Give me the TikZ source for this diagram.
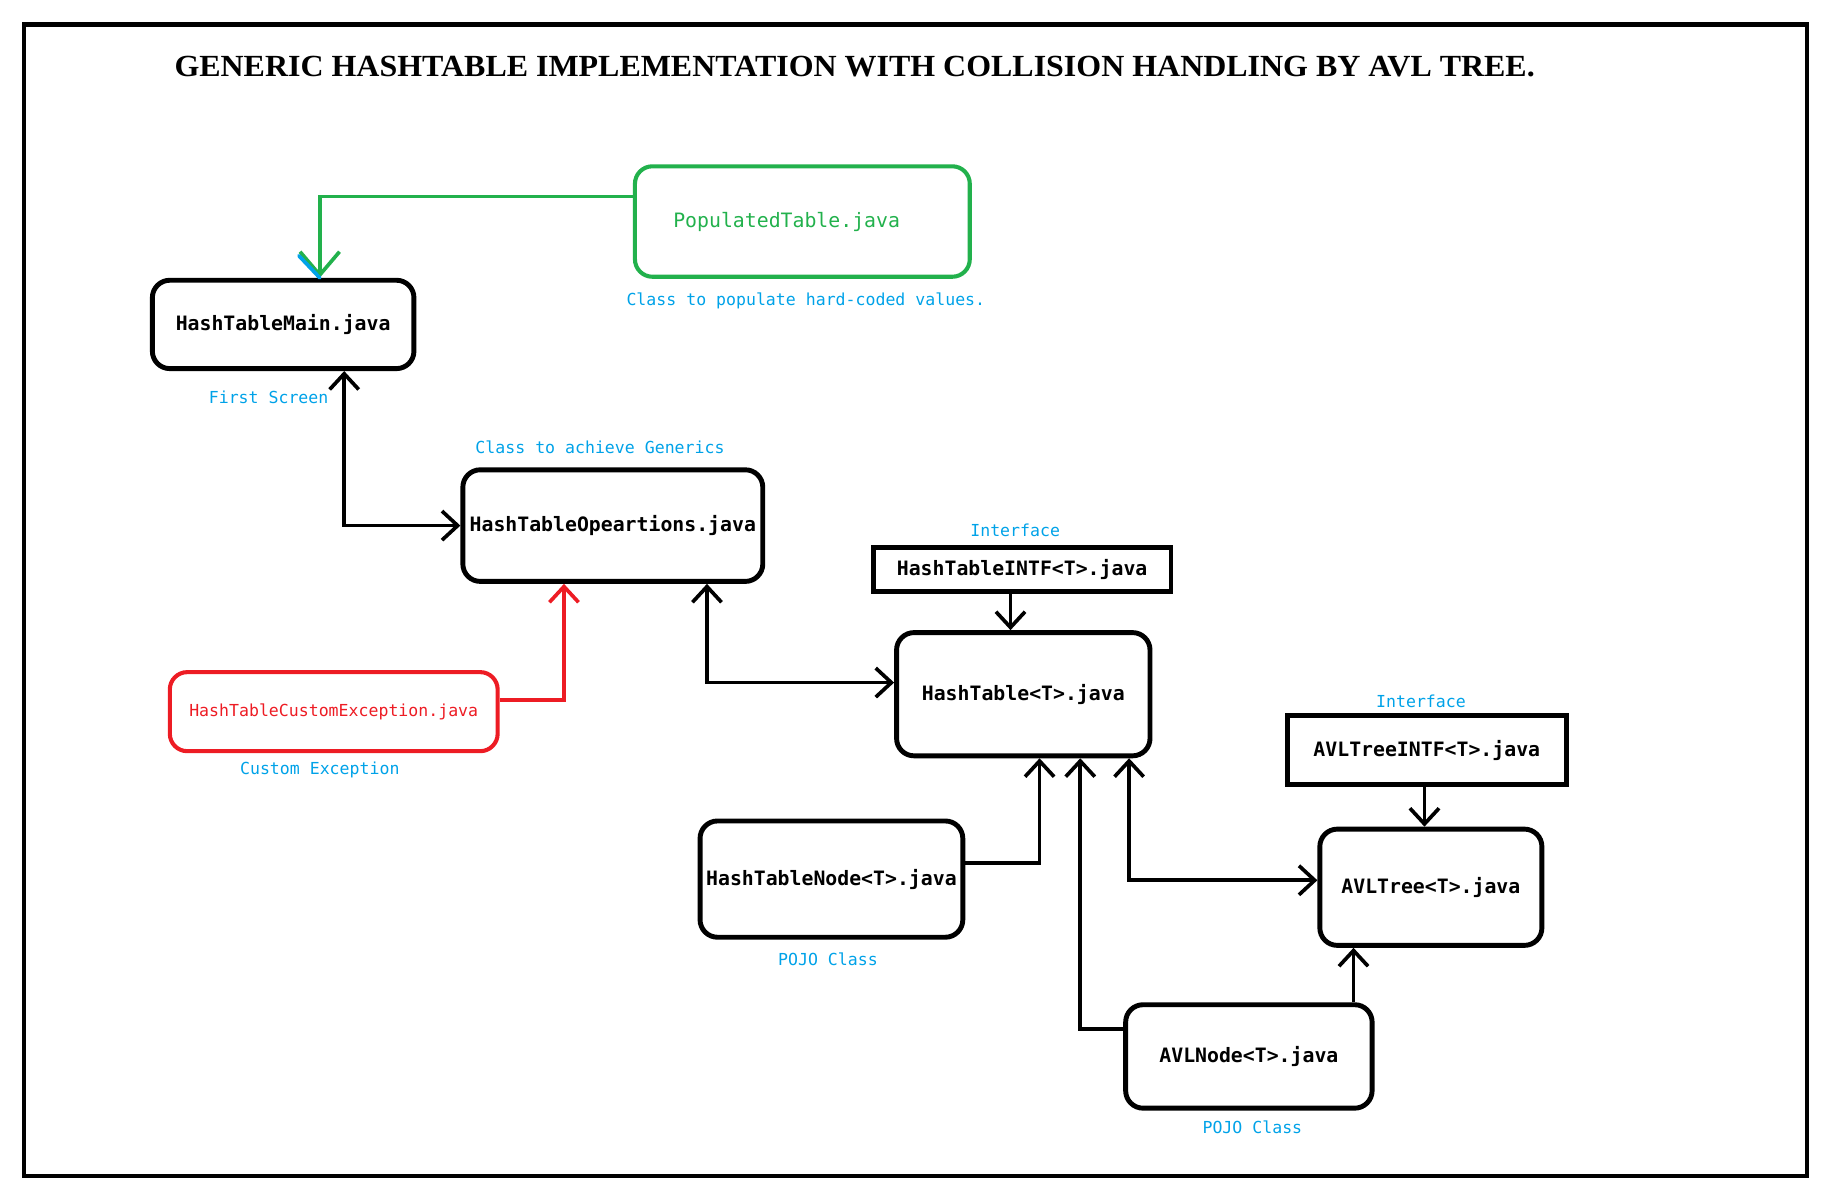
\documentclass[tikz,border=0pt]{standalone}
\usepackage{fontspec}
\setmainfont{Liberation Serif}
\setmonofont{DejaVu Sans Mono}
\usepackage{graphicx}
\usetikzlibrary{arrows.meta}
\usetikzlibrary{positioning}
\definecolor{paintgreen}{RGB}{34,177,76}
\definecolor{paintred}{RGB}{237,28,36}
\definecolor{paintblue}{RGB}{0,162,232}
\tikzstyle{block} = [rectangle, draw, line width=2.4pt, rounded corners=0.3cm, align=center, inner sep=0pt, font=\fontsize{9.7}{11}\selectfont\ttfamily\bfseries]
\tikzstyle{intfbox} = [rectangle, draw, line width=2.4pt, align=center, inner sep=0pt, font=\fontsize{9.7}{11}\selectfont\ttfamily\bfseries]
\tikzstyle{note} = [paintblue, font=\fontsize{8.1}{10}\selectfont\ttfamily]
\tikzstyle{arrow} = [draw, line width=1.8pt, -{Straight Barb[length=0.27cm,width=0.5cm]}]
\tikzstyle{dblarrow} = [draw, line width=1.8pt, {Straight Barb[length=0.27cm,width=0.5cm]}-{Straight Barb[length=0.27cm,width=0.5cm]}]

\begin{document}
\begin{tikzpicture}[x=0.02cm, y=-0.02cm]
\useasboundingbox (0,0) rectangle (1566,1024);
%% frame and title
\draw[line width=2.2pt] (20.5,21) rectangle (1554,1011.5);
\node (title) at (735,57.3) {\resizebox{23.4cm}{0.35cm}{\bfseries GENERIC HASHTABLE IMPLEMENTATION WITH COLLISION HANDLING BY AVL TREE.}};

%% top part
\node[block, draw=paintgreen, line width=2pt, text=paintgreen, font=\fontsize{9.7}{11}\selectfont\ttfamily, minimum height=1.9cm, inner xsep=0.66cm, text width=4.44cm, align=left] at (690,190.5) (popbox) {PopulatedTable.java};
\node[note] at (693,259) (popnote) {Class to populate hard-coded values.};

\node[block, minimum width=4.5cm, minimum height=1.52cm] at (243.5,279) (htmain) {HashTableMain.java};
\node[note] at (231,342) (mainnote) {First Screen};

\path [arrow, paintgreen, -{Straight Barb[length=0.4cm,width=0.68cm]}] ([yshift=0.43cm]popbox.west) -| ([xshift=0.63cm]htmain.north);
\draw [paintblue, line width=1.8pt, line cap=round] ([xshift=0.63cm]htmain.north) -- ([xshift=0.27cm,yshift=0.38cm]htmain.north);

\node[block, minimum width=5.16cm, minimum height=1.92cm] at (527,452) (htops) {HashTableOpeartions.java};
\node[note] at (516,385) (opsnote) {Class to achieve Generics};
\path [dblarrow] ([xshift=1.05cm]htmain.south) |- (htops.west);

\node[block, draw=paintred, line width=2pt, text=paintred, font=\fontsize{8.1}{10}\selectfont\ttfamily, minimum width=5.64cm, minimum height=1.36cm] at (287,612) (exc) {HashTableCustomException.java};
\node[note] at (275,662) (excnote) {Custom Exception};
\path [arrow, paintred] ([yshift=0.2cm]exc.east) -| ([xshift=-0.84cm]htops.south);

%% hash table
\node[intfbox, minimum width=5.12cm, minimum height=0.76cm] at (879,490) (htintf) {HashTableINTF<T>.java};
\node[note] at (873,456) (htintfnote) {Interface};

\node[block, minimum width=4.36cm, minimum height=2.12cm] at (880,597) (ht) {HashTable<T>.java};
\path [arrow] ([xshift=-0.2cm]htintf.south) -- ([xshift=-0.2cm]htintf.south |- ht.north);
\path [dblarrow] ([xshift=1.62cm]htops.south) |- ([yshift=0.2cm]ht.west);

\node[block, minimum width=4.52cm, minimum height=2cm] at (715,756) (htnode) {HashTableNode<T>.java};
\node[note] at (712,825) (htnodenote) {POJO Class};
\path [arrow] ([yshift=0.28cm]htnode.east) -| ([xshift=0.28cm]ht.south);

%% avl tree
\node[intfbox, minimum width=4.8cm, minimum height=1.2cm] at (1227,645) (avlintf) {AVLTreeINTF<T>.java};
\node[note] at (1222,603) (avlintfnote) {Interface};

\node[block, minimum width=3.82cm, minimum height=2cm] at (1230.5,763) (avltree) {AVLTree<T>.java};
\path [arrow] ([xshift=-0.04cm]avlintf.south) -- ([xshift=-0.04cm]avlintf.south |- avltree.north);
\path [dblarrow] ([xshift=1.82cm]ht.south) |- ([yshift=0.12cm]avltree.west);

\node[block, minimum width=4.24cm, minimum height=1.78cm] at (1074,908.5) (avlnode) {AVLNode<T>.java};
\node[note] at (1077,969) (avlnodenote) {POJO Class};
\path [arrow] ([yshift=0.47cm]avlnode.west) -| ([xshift=0.98cm]ht.south);
\path [arrow] ([xshift=1.8cm]avlnode.north) -- ([xshift=1.8cm]avlnode.north |- avltree.south);

\end{tikzpicture}
\end{document}
